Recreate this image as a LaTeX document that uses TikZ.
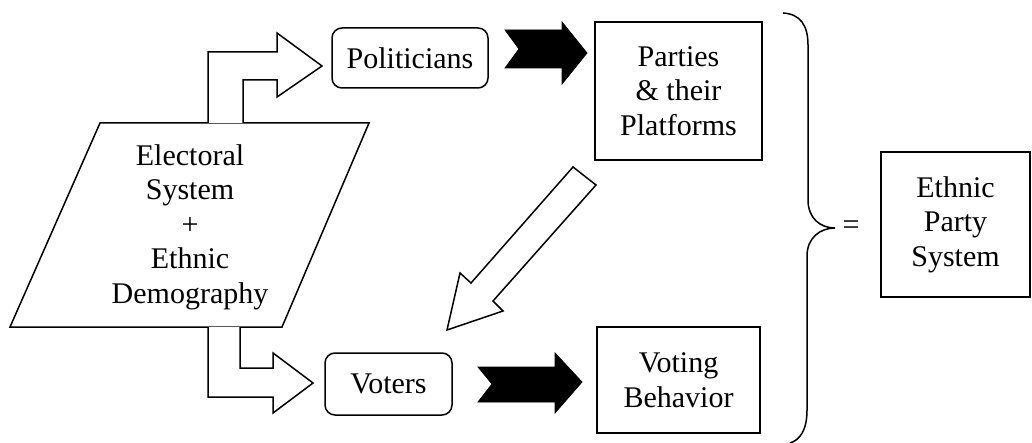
\documentclass[tikz,border=0pt]{standalone}
\usepackage{fontspec}
\setmainfont{Liberation Serif}
\begin{document}
\begin{tikzpicture}[x=1pt,y=-1pt,line width=1.5pt,line join=miter,
  txt/.style={font=\fontsize{30}{34.5}\selectfont,align=center,inner sep=0pt},
  rbox/.style={txt,draw,rounded corners=10pt},
  sbox/.style={txt,draw},
  hollow/.style={draw,fill=white},
  solidarrow/.style={draw,fill=black,line width=0.8pt}]
\clip (0,0) rectangle (1032,443);

% boxes
\node[rbox,minimum width=156pt,minimum height=60pt] (pol) at (410,58) {Politicians};
\node[rbox,minimum width=127pt,minimum height=62pt] (vot) at (388.5,384) {Voters};
\node[sbox,minimum width=167pt,minimum height=138pt] (par) at (678.5,91) {Parties\\\& their\\Platforms};
\node[sbox,minimum width=163pt,minimum height=106pt] (beh) at (678.5,380) {Voting\\Behavior};
\node[sbox,minimum width=149pt,minimum height=145pt] (eps) at (955.5,224.5) {Ethnic\\Party\\System};

% electoral system parallelogram
\coordinate (p1) at (100,123);
\coordinate (p2) at (369,123);
\coordinate (p3) at (282,327);
\coordinate (p4) at (10,327);
\draw (p1) -- (p2) -- (p3) -- (p4) -- cycle;
\node[txt] (es) at (190,227) {Electoral\\System\\+\\Ethnic\\Demography};

% hollow bent arrows out of the parallelogram
\draw[hollow] (208,123) -- (208,52) -- (277,52) -- (277,33) -- (322,66)
  -- (277,97) -- (277,80) -- (243,80) -- (243,123);
\draw[hollow] (208,327) -- (208,397) -- (273,397) -- (273,413) -- (313,383)
  -- (273,353) -- (273,368) -- (240,368) -- (240,327);

% hollow diagonal arrow from platforms to voters
\draw[hollow] (573,167) -- (596,185) -- (493,301) -- (503,311) -- (447,330)
  -- (460,273) -- (471,283) -- cycle;

% solid arrows
\draw[solidarrow] (505,30) -- (562,30) -- (562,22) -- (587,53) -- (562,84)
  -- (562,68) -- (505,68) -- (519,49) -- cycle;
\draw[solidarrow] (478,367) -- (555,367) -- (555,353) -- (582,382) -- (555,413)
  -- (555,402) -- (478,402) -- (492,384) -- cycle;

% brace and equals sign
\draw (783,13) .. controls (800,14) and (808,25) .. (808,45) -- (808,200)
  .. controls (808,218) and (820,228) .. (835,228)
  .. controls (820,228) and (807,238) .. (807,256) -- (807,410)
  .. controls (807,430) and (800,440) .. (790,443);
\node[txt] (eq) at (851,228) {=};
\end{tikzpicture}
\end{document}
